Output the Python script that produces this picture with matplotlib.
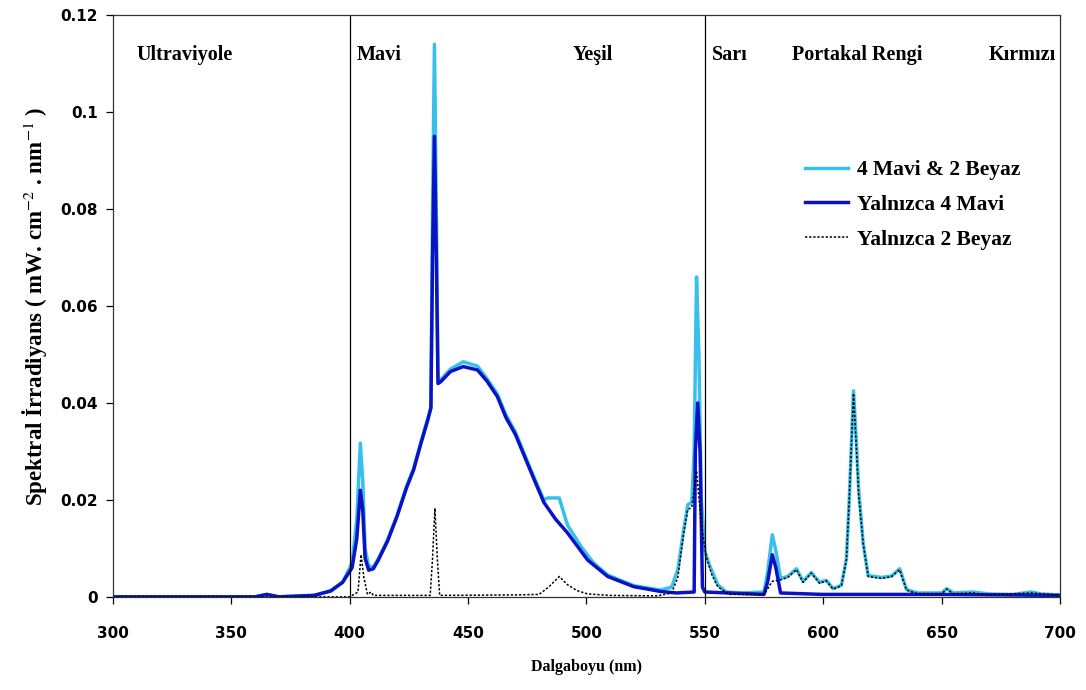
import matplotlib
matplotlib.use('Agg')

import matplotlib.pyplot as plt
from matplotlib.ticker import FuncFormatter

# 4 Mavi & 2 Beyaz (light blue)
wl_mavi_beyaz = [300, 360, 365, 370, 385, 392, 397, 401, 403, 404.5, 405.5, 406.5, 408, 410, 412, 416,
                 420, 424, 427, 430, 433, 434.3, 435, 435.8, 436.6, 437.3, 438.5, 442.6, 448, 454, 458,
                 462.4, 466, 470, 474, 478, 482, 483.6, 488.5, 492, 497.7, 503, 509, 520, 531.5, 536,
                 538.6, 541, 542.8, 544.5, 545.5, 546.5, 547.5, 548.5, 550, 552, 555.5, 559, 565, 575,
                 576.5, 578.5, 580, 582, 585, 588.7, 591.5, 595, 598.5, 601.3, 604.2, 607.7, 609.8, 611,
                 612.8, 614, 615, 616.9, 619, 624.6, 628.9, 632.3, 635.2, 640, 650, 652.2, 655, 663, 670,
                 680, 688, 692, 700]
val_mavi_beyaz = [0, 0, 0.0005, 0, 0.0003, 0.0013, 0.003, 0.007, 0.016, 0.0317, 0.024, 0.01, 0.0063,
                  0.0062, 0.0078, 0.0118, 0.0168, 0.0228, 0.0265, 0.0318, 0.0368, 0.039, 0.08, 0.114,
                  0.08, 0.045, 0.0448, 0.047, 0.0485, 0.0476, 0.045, 0.0418, 0.0375, 0.034, 0.0292,
                  0.0245, 0.020, 0.0204, 0.0204, 0.0148, 0.0104, 0.007, 0.0045, 0.0023, 0.0014, 0.002,
                  0.0056, 0.0135, 0.019, 0.0195, 0.03, 0.066, 0.05, 0.02, 0.0095, 0.0065, 0.0025, 0.001,
                  0.0008, 0.001, 0.005, 0.0128, 0.0095, 0.0038, 0.0042, 0.0058, 0.0032, 0.005, 0.003,
                  0.0034, 0.0017, 0.0024, 0.0078, 0.02, 0.0425, 0.032, 0.022, 0.011, 0.0044, 0.004,
                  0.0043, 0.0058, 0.0015, 0.0008, 0.0008, 0.0017, 0.0008, 0.001, 0.0006, 0.0005, 0.001,
                  0.0006, 0.0004]

# Yalnizca 4 Mavi (dark blue)
wl_mavi = [300, 360, 365, 370, 385, 392, 397, 401, 403, 404.5, 405.5, 406.5, 408, 410, 412, 416, 420,
           424, 427, 430, 433, 434.3, 435, 435.8, 436.6, 437.3, 438.5, 442.6, 448, 454, 458, 462.4, 466,
           470, 474, 478, 482, 487, 492, 500.5, 509, 520, 531.5, 538, 545.5, 546, 547, 548, 549, 550,
           575, 576.5, 578.5, 580, 582, 600, 650, 700]
val_mavi = [0, 0, 0.0005, 0, 0.0003, 0.0012, 0.003, 0.006, 0.012, 0.022, 0.018, 0.008, 0.0055, 0.0058,
            0.0075, 0.0115, 0.0166, 0.0225, 0.0262, 0.0315, 0.0365, 0.039, 0.07, 0.095, 0.07, 0.044,
            0.0444, 0.0465, 0.0475, 0.0468, 0.0445, 0.0413, 0.037, 0.0335, 0.0288, 0.0241, 0.0195,
            0.016, 0.0132, 0.0076, 0.0042, 0.0021, 0.0011, 0.0008, 0.001, 0.03, 0.040, 0.03, 0.002,
            0.001, 0.0005, 0.003, 0.0087, 0.006, 0.0008, 0.0005, 0.0005, 0.0003]

# Yalnizca 2 Beyaz (black dotted)
wl_beyaz = [300, 400, 403.5, 404.8, 406, 407.5, 409, 410, 434, 435, 436, 437, 438, 470, 480, 484, 488.5,
            492, 496, 500.5, 510, 530, 536, 538.6, 541, 542.8, 544.5, 546.5, 548.5, 550.6, 553, 555.5,
            560, 575, 577, 578.5, 582, 585, 588.7, 591.5, 595, 598.5, 601.3, 604.2, 607.7, 609.8, 611,
            612.8, 614, 615, 616.9, 619, 624.6, 628.9, 632.3, 635.2, 640, 650, 652.2, 655, 663, 670,
            688, 700]
val_beyaz = [0, 0, 0.001, 0.0087, 0.004, 0.0005, 0.001, 0.0003, 0.0003, 0.008, 0.0183, 0.008, 0.0003,
             0.0004, 0.0005, 0.002, 0.0042, 0.0025, 0.0013, 0.0006, 0.0003, 0.0002, 0.0008, 0.004,
             0.013, 0.018, 0.0185, 0.026, 0.015, 0.0083, 0.0045, 0.0021, 0.0005, 0.0005, 0.002, 0.0032,
             0.0035, 0.004, 0.0056, 0.003, 0.0049, 0.0028, 0.0033, 0.0016, 0.0023, 0.0076, 0.02, 0.042,
             0.031, 0.021, 0.011, 0.0042, 0.0038, 0.0042, 0.0056, 0.0014, 0.0006, 0.0006, 0.0016,
             0.0006, 0.0008, 0.0004, 0.0008, 0.0003]

region_names = ['Ultraviyole', 'Mavi', 'Yeşil', 'Sarı', 'Portakal Rengi', 'Kırmızı']
region_x = [310, 403, 494, 553, 587, 670]
region_edges = [400, 550]

x_ticks = [300, 350, 400, 450, 500, 550, 600, 650, 700]
y_ticks = [0, 0.02, 0.04, 0.06, 0.08, 0.1, 0.12]

SERIF = 'Liberation Serif'
plt.rcParams['mathtext.fontset'] = 'stix'

fig = plt.figure(figsize=(10.86, 6.9), dpi=100)
ax = fig.add_axes([0.104, 0.135, 0.872, 0.843])

ax.plot(wl_mavi_beyaz, val_mavi_beyaz, color='#38c0ec', lw=2.5, label='4 Mavi & 2 Beyaz')
ax.plot(wl_mavi, val_mavi, color='#0a12c4', lw=2.5, label='Yalnızca 4 Mavi')
ax.plot(wl_beyaz, val_beyaz, color='black', lw=1.1, ls=(0, (1.5, 1.2)), label='Yalnızca 2 Beyaz')

for e in region_edges:
    ax.axvline(e, color='black', lw=0.9)

for name, x in zip(region_names, region_x):
    ax.text(x, 0.1118, name, ha='left', va='center', fontsize=14.5, fontweight='bold', family=SERIF)

ax.set_xlim(300, 700)
ax.set_ylim(0, 0.12)
ax.set_xticks(x_ticks)
ax.set_yticks(y_ticks)
ax.yaxis.set_major_formatter(FuncFormatter(lambda v, p: ('%g' % round(v, 3))))
ax.tick_params(direction='out', length=5, width=0.9, labelsize=11)
ax.tick_params(axis='x', pad=16)
ax.tick_params(axis='y', pad=6)
for lab in ax.get_xticklabels() + ax.get_yticklabels():
    lab.set_fontweight('bold')
    lab.set_family('DejaVu Sans')
for s in ax.spines.values():
    s.set_linewidth(0.9)
    s.set_color('#333333')

ax.set_xlabel('Dalgaboyu (nm)', fontsize=11.5, fontweight='bold', family=SERIF, labelpad=13)
ax.set_ylabel(r'Spektral İrradiyans ( mW. cm$^{-2}$ . nm$^{-1}$ )', fontsize=16.5,
              fontweight='bold', family=SERIF, labelpad=8)

leg = ax.legend(loc='upper left', bbox_to_anchor=(0.741, 0.768), bbox_transform=fig.transFigure,
                frameon=False, handlelength=2.0, handletextpad=0.45, labelspacing=0.68,
                borderpad=0, borderaxespad=0, prop={'family': SERIF, 'weight': 'bold', 'size': 15.5})

fig.savefig('out.png', dpi=100)
plt.close(fig)
